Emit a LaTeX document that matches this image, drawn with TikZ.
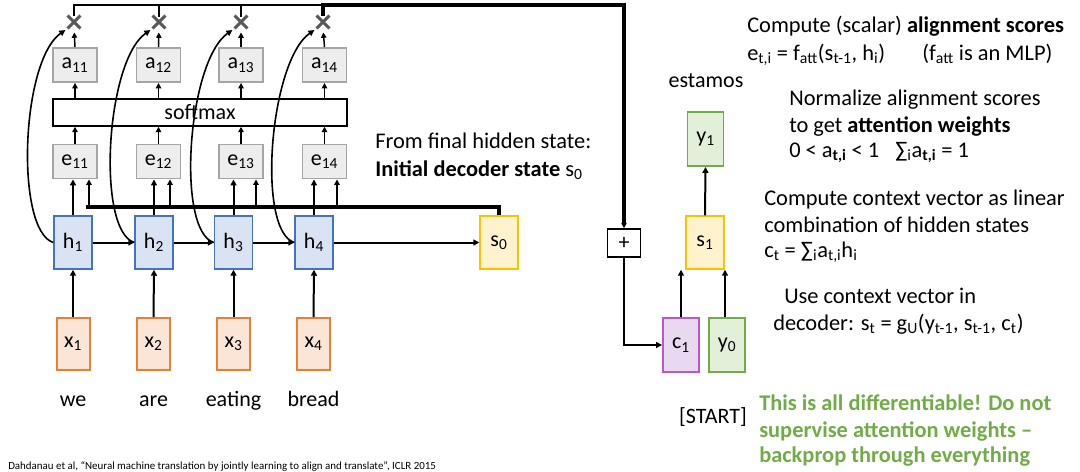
\documentclass[tikz,border=0pt]{standalone}
\usepackage{fontspec}
\setmainfont{Carlito}
\usetikzlibrary{arrows.meta,shapes.misc}
\definecolor{gfill}{HTML}{EDEDED}
\definecolor{gdraw}{HTML}{A5A5A5}
\definecolor{hfill}{HTML}{DAE3F3}
\definecolor{hdraw}{HTML}{4472C4}
\definecolor{xfill}{HTML}{FBE5D6}
\definecolor{xdraw}{HTML}{ED7D31}
\definecolor{sfill}{HTML}{FFF2CC}
\definecolor{sdraw}{HTML}{FFC000}
\definecolor{yfill}{HTML}{E2F0D9}
\definecolor{ydraw}{HTML}{70AD47}
\definecolor{cfill}{HTML}{E8D9F0}
\definecolor{cdraw}{HTML}{BF55CC}
\definecolor{gtext}{HTML}{70AD47}
\definecolor{crossc}{HTML}{595959}
\newcommand{\lo}[1]{\textsubscript{#1}}
\begin{document}
\begin{tikzpicture}[x=0.75pt,y=-0.75pt,
  box/.style={draw, line width=1.1pt, inner sep=0pt, font=\fontsize{16.5}{18}\selectfont},
  gbox/.style={box, fill=gfill, draw=gdraw, line width=1.4pt, minimum width=33pt, minimum height=25.5pt},
  hbox/.style={box, fill=hfill, draw=hdraw, minimum width=28.5pt, minimum height=39.75pt},
  xbox/.style={box, fill=xfill, draw=xdraw, line width=1.5pt, minimum width=24.75pt, minimum height=39pt},
  sbox/.style={box, fill=sfill, draw=sdraw, minimum width=28.5pt, minimum height=39.75pt},
  ybox/.style={box, fill=yfill, draw=ydraw, line width=1.4pt, minimum width=27pt, minimum height=40.5pt},
  cbox/.style={box, fill=cfill, draw=cdraw, line width=1.4pt, minimum width=27pt, minimum height=40.5pt},
  mul/.style={cross out, draw=crossc, line width=2.2pt, minimum size=7.5pt, inner sep=0pt},
  arr/.style={-{Triangle[length=4.5pt,width=4.5pt]}, line width=1.5pt},
  sarr/.style={-{Triangle[length=4pt,width=4pt]}, line width=1.1pt},
  curv/.style={-{Triangle[length=4.5pt,width=4.5pt]}, line width=1.2pt, shorten >=2pt},
  txt/.style={anchor=base west, inner sep=0pt, font=\fontsize{16.8}{18}\selectfont},
  word/.style={anchor=base, inner sep=0pt, font=\fontsize{16.5}{18}\selectfont},
  gtxt/.style={txt, text=gtext, font=\fontsize{16.8}{18}\selectfont\bfseries}
]
\useasboundingbox (0,0) rectangle (1080,471);

% multiply marks
\node[mul] (m1) at (74,22) {};
\node[mul] (m2) at (159,22) {};
\node[mul] (m3) at (241,22) {};
\node[mul] (m4) at (323,22) {};

% attention weights
\node[gbox] (a1) at (75,65) {a\lo{11}};
\node[gbox] (a2) at (158.5,65) {a\lo{12}};
\node[gbox] (a3) at (241,65) {a\lo{13}};
\node[gbox] (a4) at (324.5,65) {a\lo{14}};

% softmax
\node[box, fill=white, draw=black, line width=1.1pt, minimum width=220.5pt, minimum height=20.25pt] (sm) at (200,112.5) {softmax};

% alignment scores
\node[gbox] (e1) at (75,161.5) {e\lo{11}};
\node[gbox] (e2) at (158.5,161.5) {e\lo{12}};
\node[gbox] (e3) at (241,161.5) {e\lo{13}};
\node[gbox] (e4) at (324.5,161.5) {e\lo{14}};

% encoder hidden states
\node[hbox] (h1) at (73,242.5) {h\lo{1}};
\node[hbox] (h2) at (154,242.5) {h\lo{2}};
\node[hbox] (h3) at (233.5,242.5) {h\lo{3}};
\node[hbox] (h4) at (314,242.5) {h\lo{4}};
\node[sbox] (s0) at (499,242.5) {s\lo{0}};

% inputs
\node[xbox] (x1) at (73,344) {x\lo{1}};
\node[xbox] (x2) at (153.5,344) {x\lo{2}};
\node[xbox] (x3) at (233.5,344) {x\lo{3}};
\node[xbox] (x4) at (313.5,344) {x\lo{4}};

\node[word] (w1) at (73,406) {we};
\node[word] (w2) at (153.5,406) {are};
\node[word] (w3) at (233.5,406) {eating};
\node[word] (w4) at (313.5,406) {bread};

% decoder
\node[box, fill=white, draw=black, minimum width=24.75pt, minimum height=21pt] (plus) at (624,243) {+};
\node[sbox] (s1) at (705,242.5) {s\lo{1}};
\node[ybox] (y1) at (705.5,139) {y\lo{1}};
\node[cbox] (c1) at (681,345) {c\lo{1}};
\node[ybox] (y0) at (727,345) {y\lo{0}};
\node[word] (est) at (706,87) {estamos};
\node[word] (start) at (713,423) {[START]};

% encoder arrows
\foreach \i in {1,2,3,4} {
  \draw[arr] (x\i.north) -- (h\i.south);
  \draw[arr] (h\i.north) -- (h\i.north |- e\i.south);
  \draw[sarr] (e\i.north) -- (e\i.north |- sm.south);
  \draw[sarr] (a\i.south |- sm.north) -- (a\i.south);
  \draw[sarr, shorten >=3pt] (a\i.north) -- (m\i.south);
  \draw[curv] (h\i.west) .. controls +(-38,-12) and +(-47,33) .. (m\i.south west);
}
\draw[arr] (h1.east) -- (h2.west);
\draw[arr] (h2.east) -- (h3.west);
\draw[arr] (h3.east) -- (h4.west);
\draw[arr] (h4.east) -- (s0.west);

% s0 feeding the alignment scores
\coordinate (j1) at (89,207);
\coordinate (j2) at (170,207);
\coordinate (j3) at (256,207);
\coordinate (j4) at (337,207);
\draw[line width=2.4pt] (s0.north) |- ([xshift=-2pt]j1);
\draw[sarr] (j1) -- (j1 |- e1.south);
\draw[sarr] (j2) -- (j2 |- e2.south);
\draw[sarr] (j3) -- (j3 |- e3.south);
\draw[sarr] (j4) -- (j4 |- e4.south);

% weighted sum to the + node
\coordinate (T) at (624,5);
\draw[line width=1.2pt, line cap=rect] (m1.north) -- (m1.north |- T) -- (m2.north |- T);
\draw[line width=1.8pt, line cap=rect] (m2.north) -- (m2.north |- T) -- (m3.north |- T);
\draw[line width=2.1pt, line cap=rect] (m3.north) -- (m3.north |- T) -- (m4.north |- T);
\draw[line width=2.7pt] (m4.north) -- (m4.north |- T) -- (T) -- ([yshift=4pt]plus.north);
\draw[sarr] ([yshift=5pt]plus.north) -- (plus.north);

% decoder arrows
\draw[arr] (plus.south) |- (c1.west);
\draw[arr] (c1.north) -- (c1.north |- s1.south);
\draw[arr] ([xshift=-1.5pt]y0.north) -- ([xshift=-1.5pt]y0.north |- s1.south);
\draw[arr] (s1.north) -- (y1.south);

% annotations
\node[txt] (t1) at (375,148) {From final hidden state:};
\node[txt] (t2) at (375,176) {\textbf{Initial decoder state} s\lo{0}};

\node[txt] (r1) at (747,32) {Compute (scalar) \textbf{alignment scores}};
\node[txt] (r2) at (747,60) {e\lo{t,i} = f\lo{att}(s\lo{t-1}, h\lo{i})};
\node[txt] (r2b) at (922,60) {(f\lo{att} is an MLP)};
\node[txt] (r3) at (789,105) {Normalize alignment scores};
\node[txt] (r4) at (789,132) {to get \textbf{attention weights}};
\node[txt] (r5) at (789,157) {0 < a\lo{\textbf{t,i}} < 1};
\node[txt] (r5b) at (895,157) {∑\lo{i}a\lo{\textbf{t,i}} = 1};
\node[txt] (r6) at (764,205) {Compute context vector as linear};
\node[txt] (r7) at (764,232) {combination of hidden states};
\node[txt] (r8) at (764,257) {c\lo{t} = ∑\lo{i}a\lo{t,i}h\lo{i}};
\node[txt] (r9) at (784,303) {Use context vector in};
\node[txt] (r10) at (773,330) {decoder: s\lo{t} = g\lo{U}(y\lo{t-1}, s\lo{t-1}, c\lo{t})};

\node[gtxt] (g1) at (759,410) {This is all differentiable! Do not};
\node[gtxt] (g2) at (759,437) {supervise attention weights –};
\node[gtxt] (g3) at (759,462) {backprop through everything};

\node[anchor=base west, inner sep=0pt, font=\fontsize{8.2}{9}\selectfont] (cite) at (8,469) {Dahdanau et al, “Neural machine translation by jointly learning to align and translate”, ICLR 2015};
\end{tikzpicture}
\end{document}
